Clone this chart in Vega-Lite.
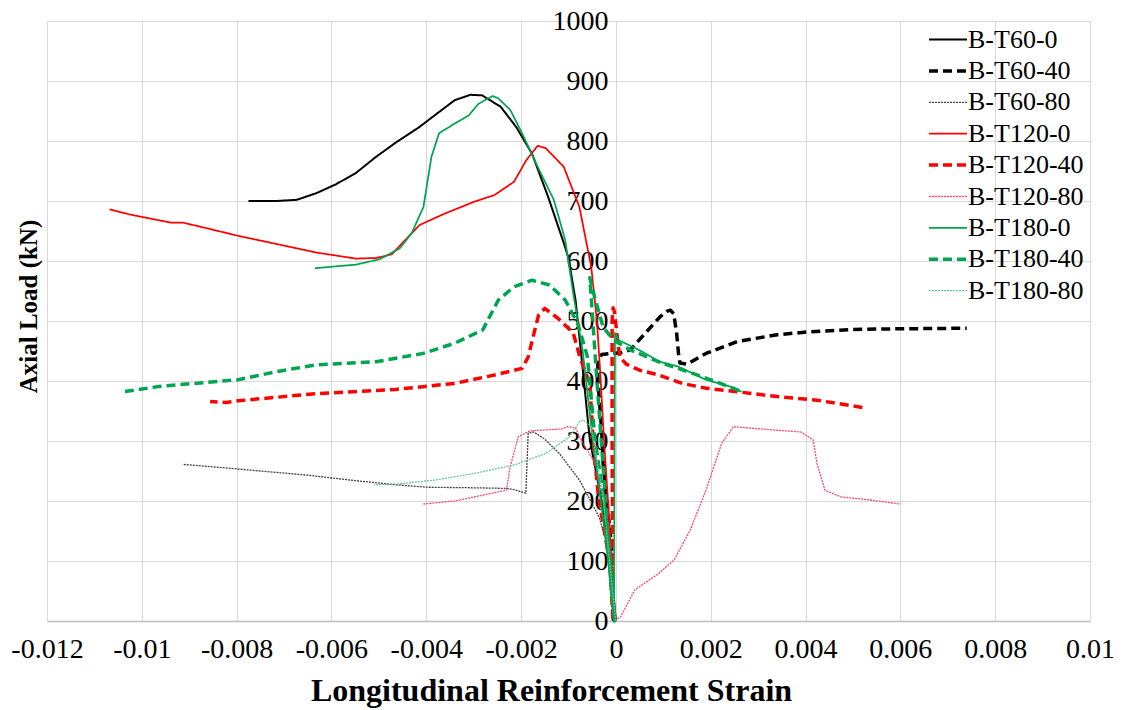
{
  "$schema": "https://vega.github.io/schema/vega-lite/v6.json",
  "width": 1043,
  "height": 600,
  "autosize": {"type": "none"},
  "padding": {"left": 47, "top": 21, "right": 32, "bottom": 89},
  "background": "white",
  "config": {
    "view": {"stroke": null},
    "font": "Liberation Serif",
    "axis": {"gridColor": "#d9d9d9", "gridWidth": 1, "labelColor": "black", "titleColor": "black", "ticks": false, "labelFlush": false, "labelOverlap": false},
    "legend": {"labelFont": "Liberation Serif"}
  },
  "data": {"values": [
    {"s":"B-T60-0","x":0,"y":0},{"s":"B-T60-0","x":-0.00005,"y":40},{"s":"B-T60-0","x":-0.00012,"y":100},{"s":"B-T60-0","x":-0.0003,"y":200},{"s":"B-T60-0","x":-0.00055,"y":302},{"s":"B-T60-0","x":-0.0007,"y":420},{"s":"B-T60-0","x":-0.00085,"y":534},{"s":"B-T60-0","x":-0.001,"y":605},{"s":"B-T60-0","x":-0.0011,"y":630},{"s":"B-T60-0","x":-0.00143,"y":707},{"s":"B-T60-0","x":-0.00177,"y":779},{"s":"B-T60-0","x":-0.0021,"y":823},{"s":"B-T60-0","x":-0.00243,"y":857},{"s":"B-T60-0","x":-0.00282,"y":876},{"s":"B-T60-0","x":-0.00307,"y":877},{"s":"B-T60-0","x":-0.0034,"y":868},{"s":"B-T60-0","x":-0.00382,"y":843},{"s":"B-T60-0","x":-0.00415,"y":823},{"s":"B-T60-0","x":-0.00465,"y":797},{"s":"B-T60-0","x":-0.00507,"y":773},{"s":"B-T60-0","x":-0.00548,"y":747},{"s":"B-T60-0","x":-0.0059,"y":728},{"s":"B-T60-0","x":-0.00632,"y":713},{"s":"B-T60-0","x":-0.00673,"y":702},{"s":"B-T60-0","x":-0.00715,"y":700},{"s":"B-T60-0","x":-0.00775,"y":700},

    {"s":"B-T60-40","x":-0.00005,"y":0},{"s":"B-T60-40","x":-0.00006,"y":13},{"s":"B-T60-40","x":-0.00009,"y":124},{"s":"B-T60-40","x":-0.0002,"y":207},{"s":"B-T60-40","x":-0.00027,"y":263},{"s":"B-T60-40","x":-0.0003,"y":318},{"s":"B-T60-40","x":-0.00038,"y":400},{"s":"B-T60-40","x":-0.00038,"y":435},{"s":"B-T60-40","x":-0.0003,"y":444},{"s":"B-T60-40","x":-0.0001,"y":446},{"s":"B-T60-40","x":0.0001,"y":447},{"s":"B-T60-40","x":0.0003,"y":452},{"s":"B-T60-40","x":0.00036,"y":457},{"s":"B-T60-40","x":0.0006,"y":478},{"s":"B-T60-40","x":0.00093,"y":507},{"s":"B-T60-40","x":0.00107,"y":516},{"s":"B-T60-40","x":0.00115,"y":518},{"s":"B-T60-40","x":0.00122,"y":512},{"s":"B-T60-40","x":0.00128,"y":480},{"s":"B-T60-40","x":0.00132,"y":446},{"s":"B-T60-40","x":0.00135,"y":430},{"s":"B-T60-40","x":0.0015,"y":428},{"s":"B-T60-40","x":0.0019,"y":446},{"s":"B-T60-40","x":0.00257,"y":466},{"s":"B-T60-40","x":0.0034,"y":477},{"s":"B-T60-40","x":0.00407,"y":482},{"s":"B-T60-40","x":0.005,"y":486},{"s":"B-T60-40","x":0.006,"y":487},{"s":"B-T60-40","x":0.0074,"y":488},

    {"s":"B-T60-80","x":0,"y":2},{"s":"B-T60-80","x":-0.0001,"y":107},{"s":"B-T60-80","x":-0.00036,"y":174},{"s":"B-T60-80","x":-0.00077,"y":235},{"s":"B-T60-80","x":-0.00119,"y":279},{"s":"B-T60-80","x":-0.0015,"y":303},{"s":"B-T60-80","x":-0.00173,"y":315},{"s":"B-T60-80","x":-0.00185,"y":313},{"s":"B-T60-80","x":-0.0019,"y":213},{"s":"B-T60-80","x":-0.00215,"y":219},{"s":"B-T60-80","x":-0.00231,"y":221},{"s":"B-T60-80","x":-0.003,"y":222},{"s":"B-T60-80","x":-0.004,"y":223},{"s":"B-T60-80","x":-0.00464,"y":227},{"s":"B-T60-80","x":-0.0055,"y":234},{"s":"B-T60-80","x":-0.0065,"y":243},{"s":"B-T60-80","x":-0.0075,"y":250},{"s":"B-T60-80","x":-0.0085,"y":257},{"s":"B-T60-80","x":-0.00914,"y":261},

    {"s":"B-T120-0","x":-0.00003,"y":0},{"s":"B-T120-0","x":-0.00006,"y":60},{"s":"B-T120-0","x":-0.00015,"y":180},{"s":"B-T120-0","x":-0.00025,"y":300},{"s":"B-T120-0","x":-0.00033,"y":413},{"s":"B-T120-0","x":-0.0004,"y":500},{"s":"B-T120-0","x":-0.00052,"y":590},{"s":"B-T120-0","x":-0.00077,"y":690},{"s":"B-T120-0","x":-0.0011,"y":757},{"s":"B-T120-0","x":-0.00148,"y":788},{"s":"B-T120-0","x":-0.00165,"y":792},{"s":"B-T120-0","x":-0.00189,"y":768},{"s":"B-T120-0","x":-0.00215,"y":732},{"s":"B-T120-0","x":-0.00256,"y":710},{"s":"B-T120-0","x":-0.00298,"y":699},{"s":"B-T120-0","x":-0.00364,"y":678},{"s":"B-T120-0","x":-0.00414,"y":660},{"s":"B-T120-0","x":-0.00448,"y":632},{"s":"B-T120-0","x":-0.00473,"y":611},{"s":"B-T120-0","x":-0.00506,"y":605},{"s":"B-T120-0","x":-0.00548,"y":604},{"s":"B-T120-0","x":-0.00631,"y":614},{"s":"B-T120-0","x":-0.00714,"y":628},{"s":"B-T120-0","x":-0.00797,"y":642},{"s":"B-T120-0","x":-0.00881,"y":658},{"s":"B-T120-0","x":-0.00914,"y":664},{"s":"B-T120-0","x":-0.00939,"y":664},{"s":"B-T120-0","x":-0.01022,"y":677},{"s":"B-T120-0","x":-0.01068,"y":686},

    {"s":"B-T120-40","x":0.0052,"y":356},{"s":"B-T120-40","x":0.00424,"y":368},{"s":"B-T120-40","x":0.0034,"y":374},{"s":"B-T120-40","x":0.00257,"y":382},{"s":"B-T120-40","x":0.0019,"y":388},{"s":"B-T120-40","x":0.0014,"y":396},{"s":"B-T120-40","x":0.0009,"y":410},{"s":"B-T120-40","x":0.0005,"y":418},{"s":"B-T120-40","x":0.00022,"y":428},{"s":"B-T120-40","x":0.00008,"y":440},{"s":"B-T120-40","x":0.00002,"y":480},{"s":"B-T120-40","x":-0.00003,"y":515},{"s":"B-T120-40","x":-0.00006,"y":522},{"s":"B-T120-40","x":-0.00008,"y":500},{"s":"B-T120-40","x":-0.00008,"y":300},{"s":"B-T120-40","x":-0.00007,"y":150},{"s":"B-T120-40","x":-0.00006,"y":0},{"s":"B-T120-40","x":-0.00013,"y":97},{"s":"B-T120-40","x":-0.00037,"y":207},{"s":"B-T120-40","x":-0.00048,"y":300},{"s":"B-T120-40","x":-0.00055,"y":396},{"s":"B-T120-40","x":-0.00062,"y":410},{"s":"B-T120-40","x":-0.00076,"y":440},{"s":"B-T120-40","x":-0.0009,"y":480},{"s":"B-T120-40","x":-0.00123,"y":505},{"s":"B-T120-40","x":-0.0015,"y":521},{"s":"B-T120-40","x":-0.00163,"y":510},{"s":"B-T120-40","x":-0.00173,"y":479},{"s":"B-T120-40","x":-0.00185,"y":440},{"s":"B-T120-40","x":-0.00198,"y":421},{"s":"B-T120-40","x":-0.00256,"y":410},{"s":"B-T120-40","x":-0.0034,"y":396},{"s":"B-T120-40","x":-0.00464,"y":386},{"s":"B-T120-40","x":-0.00631,"y":379},{"s":"B-T120-40","x":-0.00797,"y":367},{"s":"B-T120-40","x":-0.00822,"y":364},{"s":"B-T120-40","x":-0.00856,"y":366},

    {"s":"B-T120-80","x":-0.00406,"y":195},{"s":"B-T120-80","x":-0.0034,"y":200},{"s":"B-T120-80","x":-0.00231,"y":218},{"s":"B-T120-80","x":-0.00223,"y":257},{"s":"B-T120-80","x":-0.00206,"y":307},{"s":"B-T120-80","x":-0.00181,"y":317},{"s":"B-T120-80","x":-0.00115,"y":320},{"s":"B-T120-80","x":-0.00102,"y":324},{"s":"B-T120-80","x":-0.00085,"y":322},{"s":"B-T120-80","x":-0.00077,"y":307},{"s":"B-T120-80","x":-0.00044,"y":263},{"s":"B-T120-80","x":-0.00019,"y":180},{"s":"B-T120-80","x":-0.00006,"y":68},{"s":"B-T120-80","x":0,"y":2},{"s":"B-T120-80","x":0.0001,"y":7},{"s":"B-T120-80","x":0.0004,"y":52},{"s":"B-T120-80","x":0.0009,"y":79},{"s":"B-T120-80","x":0.00123,"y":102},{"s":"B-T120-80","x":0.00157,"y":152},{"s":"B-T120-80","x":0.0019,"y":218},{"s":"B-T120-80","x":0.00223,"y":296},{"s":"B-T120-80","x":0.00248,"y":324},{"s":"B-T120-80","x":0.0029,"y":321},{"s":"B-T120-80","x":0.0039,"y":315},{"s":"B-T120-80","x":0.00416,"y":302},{"s":"B-T120-80","x":0.00424,"y":263},{"s":"B-T120-80","x":0.00441,"y":218},{"s":"B-T120-80","x":0.00474,"y":207},{"s":"B-T120-80","x":0.00533,"y":202},{"s":"B-T120-80","x":0.006,"y":195},

    {"s":"B-T180-0","x":0.00265,"y":382},{"s":"B-T180-0","x":0.0024,"y":391},{"s":"B-T180-0","x":0.0019,"y":402},{"s":"B-T180-0","x":0.00132,"y":424},{"s":"B-T180-0","x":0.00093,"y":432},{"s":"B-T180-0","x":0.00048,"y":452},{"s":"B-T180-0","x":0.00006,"y":468},{"s":"B-T180-0","x":-0.00002,"y":480},{"s":"B-T180-0","x":-0.00003,"y":250},{"s":"B-T180-0","x":-0.00004,"y":0},{"s":"B-T180-0","x":-0.00015,"y":90},{"s":"B-T180-0","x":-0.0003,"y":190},{"s":"B-T180-0","x":-0.0005,"y":310},{"s":"B-T180-0","x":-0.0007,"y":450},{"s":"B-T180-0","x":-0.0009,"y":546},{"s":"B-T180-0","x":-0.00107,"y":635},{"s":"B-T180-0","x":-0.00131,"y":702},{"s":"B-T180-0","x":-0.00165,"y":757},{"s":"B-T180-0","x":-0.00198,"y":813},{"s":"B-T180-0","x":-0.00223,"y":852},{"s":"B-T180-0","x":-0.00248,"y":871},{"s":"B-T180-0","x":-0.0026,"y":875},{"s":"B-T180-0","x":-0.0029,"y":862},{"s":"B-T180-0","x":-0.0031,"y":843},{"s":"B-T180-0","x":-0.0034,"y":829},{"s":"B-T180-0","x":-0.00373,"y":813},{"s":"B-T180-0","x":-0.00389,"y":774},{"s":"B-T180-0","x":-0.00406,"y":690},{"s":"B-T180-0","x":-0.00431,"y":646},{"s":"B-T180-0","x":-0.00456,"y":621},{"s":"B-T180-0","x":-0.00498,"y":603},{"s":"B-T180-0","x":-0.00548,"y":594},{"s":"B-T180-0","x":-0.00635,"y":588},

    {"s":"B-T180-40","x":0.0026,"y":384},{"s":"B-T180-40","x":0.002,"y":402},{"s":"B-T180-40","x":0.0015,"y":416},{"s":"B-T180-40","x":0.00093,"y":431},{"s":"B-T180-40","x":0.0003,"y":452},{"s":"B-T180-40","x":0,"y":466},{"s":"B-T180-40","x":-0.00015,"y":478},{"s":"B-T180-40","x":-0.00027,"y":490},{"s":"B-T180-40","x":-0.00045,"y":540},{"s":"B-T180-40","x":-0.00055,"y":572},{"s":"B-T180-40","x":-0.0004,"y":400},{"s":"B-T180-40","x":-0.0002,"y":180},{"s":"B-T180-40","x":-0.00008,"y":40},{"s":"B-T180-40","x":-0.00003,"y":0},{"s":"B-T180-40","x":-0.00012,"y":100},{"s":"B-T180-40","x":-0.00025,"y":200},{"s":"B-T180-40","x":-0.00044,"y":302},{"s":"B-T180-40","x":-0.0006,"y":440},{"s":"B-T180-40","x":-0.0008,"y":495},{"s":"B-T180-40","x":-0.00107,"y":535},{"s":"B-T180-40","x":-0.0014,"y":560},{"s":"B-T180-40","x":-0.00177,"y":568},{"s":"B-T180-40","x":-0.00215,"y":557},{"s":"B-T180-40","x":-0.00248,"y":535},{"s":"B-T180-40","x":-0.00281,"y":485},{"s":"B-T180-40","x":-0.0034,"y":463},{"s":"B-T180-40","x":-0.00406,"y":446},{"s":"B-T180-40","x":-0.00506,"y":432},{"s":"B-T180-40","x":-0.00631,"y":427},{"s":"B-T180-40","x":-0.00714,"y":416},{"s":"B-T180-40","x":-0.00797,"y":402},{"s":"B-T180-40","x":-0.00964,"y":391},{"s":"B-T180-40","x":-0.01039,"y":382},

    {"s":"B-T180-80","x":0,"y":0},{"s":"B-T180-80","x":-0.00006,"y":40},{"s":"B-T180-80","x":-0.00027,"y":207},{"s":"B-T180-80","x":-0.00052,"y":324},{"s":"B-T180-80","x":-0.00069,"y":335},{"s":"B-T180-80","x":-0.00077,"y":332},{"s":"B-T180-80","x":-0.00098,"y":307},{"s":"B-T180-80","x":-0.00148,"y":279},{"s":"B-T180-80","x":-0.00215,"y":260},{"s":"B-T180-80","x":-0.00298,"y":246},{"s":"B-T180-80","x":-0.00381,"y":235},{"s":"B-T180-80","x":-0.00464,"y":228},{"s":"B-T180-80","x":-0.0051,"y":227}
  ]},
  "mark": {"type": "line", "strokeCap": "butt", "strokeJoin": "round"},
  "encoding": {
    "x": {
      "field": "x", "type": "quantitative",
      "scale": {"domain": [-0.012, 0.01], "nice": false, "zero": false},
      "axis": {
        "values": [-0.012, -0.01, -0.008, -0.006, -0.004, -0.002, 0, 0.002, 0.004, 0.006, 0.008, 0.01],
        "labelExpr": "'' + datum.value",
        "labelFont": "Liberation Serif", "labelFontSize": 28, "labelPadding": 14,
        "domainColor": "#bfbfbf", "domainWidth": 1.5,
        "title": "Longitudinal Reinforcement Strain",
        "titleFont": "Liberation Serif", "titleFontSize": 32, "titleFontWeight": "bold", "titlePadding": 12,
        "titleX": 504
      }
    },
    "y": {
      "field": "y", "type": "quantitative",
      "scale": {"domain": [0, 1000], "nice": false},
      "axis": {
        "values": [0, 100, 200, 300, 400, 500, 600, 700, 800, 900, 1000],
        "labelExpr": "'' + datum.value",
        "offset": -569,
        "domain": false,
        "labelFont": "Liberation Serif", "labelFontSize": 28, "labelPadding": 8,
        "title": "Axial Load (kN)",
        "titleFont": "Liberation Serif", "titleFontSize": 25, "titleFontWeight": "bold",
        "titleX": -588, "titleY": 285, "titleBaseline": "middle"
      }
    },
    "order": {"value": null},
    "color": {
      "field": "s", "type": "nominal",
      "scale": {
        "domain": ["B-T60-0", "B-T60-40", "B-T60-80", "B-T120-0", "B-T120-40", "B-T120-80", "B-T180-0", "B-T180-40", "B-T180-80"],
        "range": ["#000000", "#000000", "#444444", "#ff0000", "#ff0000", "#ff4477", "#00a550", "#00a550", "#66c896"]
      },
      "legend": {"orient": "none", "legendX": 880, "legendY": 3, "title": null, "symbolType": "stroke", "symbolSize": 1444, "clipHeight": 31, "labelFont": "Liberation Serif", "labelFontSize": 26, "labelColor": "black", "labelOffset": -1, "rowPadding": 0.4, "padding": 0}
    },
    "strokeDash": {
      "field": "s", "type": "nominal",
      "scale": {
        "domain": ["B-T60-0", "B-T60-40", "B-T60-80", "B-T120-0", "B-T120-40", "B-T120-80", "B-T180-0", "B-T180-40", "B-T180-80"],
        "range": [[1, 0], [9, 5], [2, 1], [1, 0], [9, 5], [2, 1], [1, 0], [9, 5], [2, 1]]
      },
      "legend": {"orient": "none", "legendX": 880, "legendY": 3, "title": null, "symbolType": "stroke", "symbolSize": 1444, "clipHeight": 31, "labelFont": "Liberation Serif", "labelFontSize": 26, "labelColor": "black", "labelOffset": -1, "rowPadding": 0.4, "padding": 0}
    },
    "strokeWidth": {
      "field": "s", "type": "nominal",
      "scale": {
        "type": "ordinal",
        "domain": ["B-T60-0", "B-T60-40", "B-T60-80", "B-T120-0", "B-T120-40", "B-T120-80", "B-T180-0", "B-T180-40", "B-T180-80"],
        "range": [2, 3.5, 1.3, 1.75, 3.5, 1.3, 1.75, 3.5, 1.3]
      },
      "legend": {"orient": "none", "legendX": 880, "legendY": 3, "title": null, "symbolType": "stroke", "symbolSize": 1444, "clipHeight": 31, "labelFont": "Liberation Serif", "labelFontSize": 26, "labelColor": "black", "labelOffset": -1, "rowPadding": 0.4, "padding": 0}
    }
  }
}
